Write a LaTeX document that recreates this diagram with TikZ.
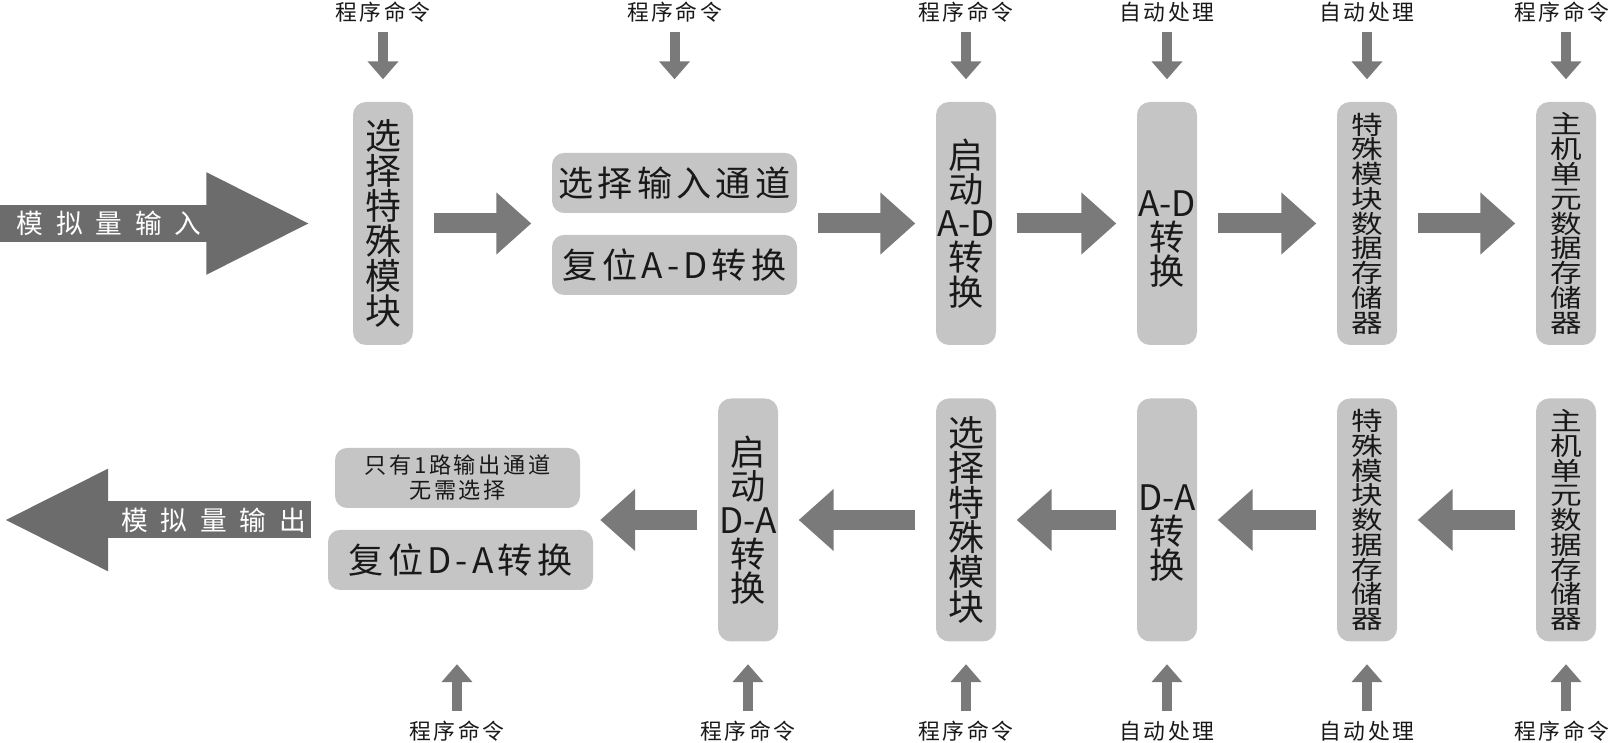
\documentclass[tikz,border=0pt]{standalone}
\usepackage{fontspec}
\setmainfont{Noto Sans CJK SC}
\newfontfamily\spfont[LetterSpace=12]{Noto Sans CJK SC}
\newfontfamily\widefont[LetterSpace=48]{Noto Sans CJK SC}
\newfontfamily\narrowfont[FakeStretch=1.25]{Noto Sans CJK SC}
\usepackage{tikz}
\usetikzlibrary{arrows.meta,positioning}
\definecolor{boxgray}{RGB}{197,197,197}
\definecolor{arrgray}{RGB}{122,122,122}
\definecolor{biggray}{RGB}{108,108,108}
\definecolor{ink}{RGB}{25,25,25}

\begin{document}
\begin{tikzpicture}[
  stage/.style={fill=boxgray,rounded corners=1.3mm,minimum width=6mm,minimum height=24.3mm,inner sep=0pt,align=center,text=ink,font=\fontsize{10}{9.7}\selectfont},
  wide/.style={stage,font=\fontsize{10.2}{9.95}\selectfont},
  tall/.style={stage,font=\narrowfont\fontsize{7.2}{7.05}\selectfont},
  pair/.style={fill=boxgray,rounded corners=1.2mm,minimum width=#1,minimum height=6mm,inner sep=0pt,align=center,text=ink,font=\spfont\fontsize{10}{12}\selectfont},
  cmd/.style={font=\spfont\fontsize{6.2}{7}\selectfont,text=ink,inner sep=0pt},
  flow/.style={draw=arrgray,line width=2mm,-{Triangle[width=6mm,length=3.5mm]},shorten <=2mm,shorten >=2mm},
  feed/.style={draw=arrgray,line width=1mm,-{Triangle[width=3mm,length=1.8mm]},shorten <=0.9mm,shorten >=2.2mm},
  big/.style={draw=biggray,line width=3.7mm,-{Triangle[width=9.4mm,length=10.5mm]}},
  bigtxt/.style={font=\widefont\fontsize{7.6}{8}\selectfont,text=white,inner sep=0pt}]
\useasboundingbox (0,0) rectangle (16.13,-7.43);
\node[wide] (s1) at (3.83,-2.235) {选\\择\\特\\殊\\模\\块};
\node[pair=24.5mm] (p1) at (6.745,-1.83) {选择输入通道};
\node[pair=24.5mm] (p2) at (6.745,-2.65) {复位A-D转换};
\node[stage] (s3) at (9.66,-2.235) {启\\动\\A-D\\转\\换};
\node[stage] (s4) at (11.67,-2.235) {\rule{0pt}{16pt}A-D\\转\\换};
\node[tall] (s5) at (13.67,-2.235) {特\\殊\\模\\块\\数\\据\\存\\储\\器};
\node[tall] (s6) at (15.66,-2.235) {主\\机\\单\\元\\数\\据\\存\\储\\器};
\node[cmd] (t1) at (3.83,-0.125) {程序命令};
\node[cmd] (t2) at (6.745,-0.125) {程序命令};
\node[cmd] (t3) at (9.66,-0.125) {程序命令};
\node[cmd] (t4) at (11.67,-0.125) {自动处理};
\node[cmd] (t5) at (13.67,-0.125) {自动处理};
\node[cmd] (t6) at (15.62,-0.125) {程序命令};
\node[pair=24.5mm,font=\spfont\fontsize{6.3}{7.1}\selectfont] (q1) at (4.575,-4.78) {只有1路输出通道\\无需选择};
\node[pair=26.5mm] (q2) at (4.605,-5.60) {复位D-A转换};
\node[stage] (r1) at (7.48,-5.20) {启\\动\\D-A\\转\\换};
\node[wide] (r2) at (9.66,-5.20) {选\\择\\特\\殊\\模\\块};
\node[stage] (r3) at (11.67,-5.20) {\rule{0pt}{14.7pt}D-A\\转\\换};
\node[tall] (r4) at (13.67,-5.20) {特\\殊\\模\\块\\数\\据\\存\\储\\器};
\node[tall] (r5) at (15.66,-5.20) {主\\机\\单\\元\\数\\据\\存\\储\\器};
\node[cmd] (u1) at (4.57,-7.31) {程序命令};
\node[cmd] (u2) at (7.48,-7.31) {程序命令};
\node[cmd] (u3) at (9.66,-7.31) {程序命令};
\node[cmd] (u4) at (11.67,-7.31) {自动处理};
\node[cmd] (u5) at (13.67,-7.31) {自动处理};
\node[cmd] (u6) at (15.62,-7.31) {程序命令};
\coordinate (ain) at (0,-2.235);
\coordinate (aout) at (0.03,-5.20);
\draw[big,shorten >=4.1mm] (ain) -- node[bigtxt,pos=0.31]{模拟量输入} (s1);
\draw[big,shorten <=2.3mm] (q1.west |- r1) -- node[bigtxt,pos=0.364]{模拟量输出} (aout);
\draw[flow] (s1) -- (s1 -| p1.west);
\draw[flow] (s1 -| p1.east) -- (s3);
\draw[flow] (s3) -- (s4);
\draw[flow] (s4) -- (s5);
\draw[flow] (s5) -- (s6);
\draw[flow] (r5) -- (r4);
\draw[flow] (r4) -- (r3);
\draw[flow] (r3) -- (r2);
\draw[flow] (r2) -- (r1);
\draw[flow,shorten >=0.65mm] (r1) -- (r1 -| q2.east);
\draw[feed] (t1) -- (t1 |- s1.north);
\draw[feed] (t2) -- (t2 |- s1.north);
\draw[feed] (t3) -- (t3 |- s1.north);
\draw[feed] (t4) -- (t4 |- s1.north);
\draw[feed] (t5) -- (t5 |- s1.north);
\draw[feed] (t6.south -| s6.north) -- (s6.north);
\draw[feed] (u1) -- (u1 |- r1.south);
\draw[feed] (u2) -- (u2 |- r1.south);
\draw[feed] (u3) -- (u3 |- r1.south);
\draw[feed] (u4) -- (u4 |- r1.south);
\draw[feed] (u5) -- (u5 |- r1.south);
\draw[feed] (u6.north -| r5.south) -- (r5.south);
\end{tikzpicture}
\end{document}
